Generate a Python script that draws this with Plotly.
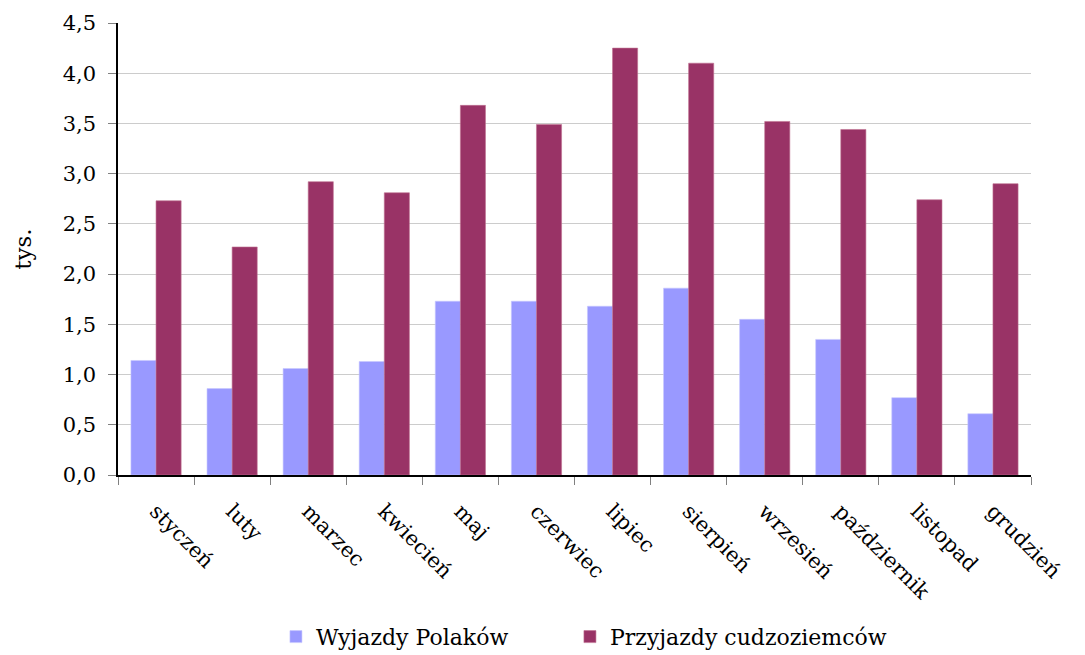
import plotly.graph_objects as go

months = ["styczeń", "luty", "marzec", "kwiecień", "maj", "czerwiec",
          "lipiec", "sierpień", "wrzesień", "październik", "listopad", "grudzień"]
wyjazdy = [1.14, 0.86, 1.06, 1.13, 1.73, 1.73, 1.68, 1.86, 1.55, 1.35, 0.77, 0.61]
przyjazdy = [2.73, 2.27, 2.92, 2.81, 3.68, 3.49, 4.25, 4.10, 3.52, 3.44, 2.74, 2.90]
yticks = [0, 0.5, 1.0, 1.5, 2.0, 2.5, 3.0, 3.5, 4.0, 4.5]

FONT = "DejaVu Serif"

fig = go.Figure()
fig.add_trace(go.Bar(x=months, y=wyjazdy, name="Wyjazdy Polaków", legend="legend",
                     marker=dict(color="#9999FF", line=dict(width=0.6, color="#c8c8ff"))))
fig.add_trace(go.Bar(x=months, y=przyjazdy, name="Przyjazdy cudzoziemców", legend="legend2",
                     marker=dict(color="#993366", line=dict(width=0.6, color="#c07090"))))

leg_common = dict(orientation="h", xanchor="left", y=-0.358, yanchor="middle",
                  font=dict(family=FONT, size=22), itemwidth=30,
                  bgcolor="rgba(0,0,0,0)")

fig.update_layout(
    width=1077, height=647,
    margin=dict(l=110, r=54, t=15, b=180, autoexpand=False),
    paper_bgcolor="white", plot_bgcolor="white",
    separators=",.",
    barmode="group", bargap=0.34, bargroupgap=0,
    font=dict(family=FONT, size=21, color="black"),
    showlegend=True,
    legend=dict(x=0.173, **leg_common),
    legend2=dict(x=0.495, **leg_common),
)
fig.update_xaxes(
    type="category", tickangle=45,
    showline=True, linecolor="black", linewidth=1.5,
    ticks="outside", ticklen=8, tickcolor="#808080", tickson="boundaries",
    showgrid=False, tickfont=dict(family=FONT, size=21),
    ticklabelstandoff=14,
)
fig.update_yaxes(
    range=[0, 4.5], tickvals=yticks, tickformat=".1f",
    showline=True, linecolor="black", linewidth=1.5,
    ticks="outside", ticklen=8, tickcolor="#808080",
    showgrid=True, gridcolor="#cccccc", gridwidth=1,
    zeroline=False,
    title=dict(text="tys.", font=dict(family=FONT, size=23), standoff=25),
    tickfont=dict(family=FONT, size=21),
    ticklabelstandoff=8,
)

fig.write_html("out.html")
